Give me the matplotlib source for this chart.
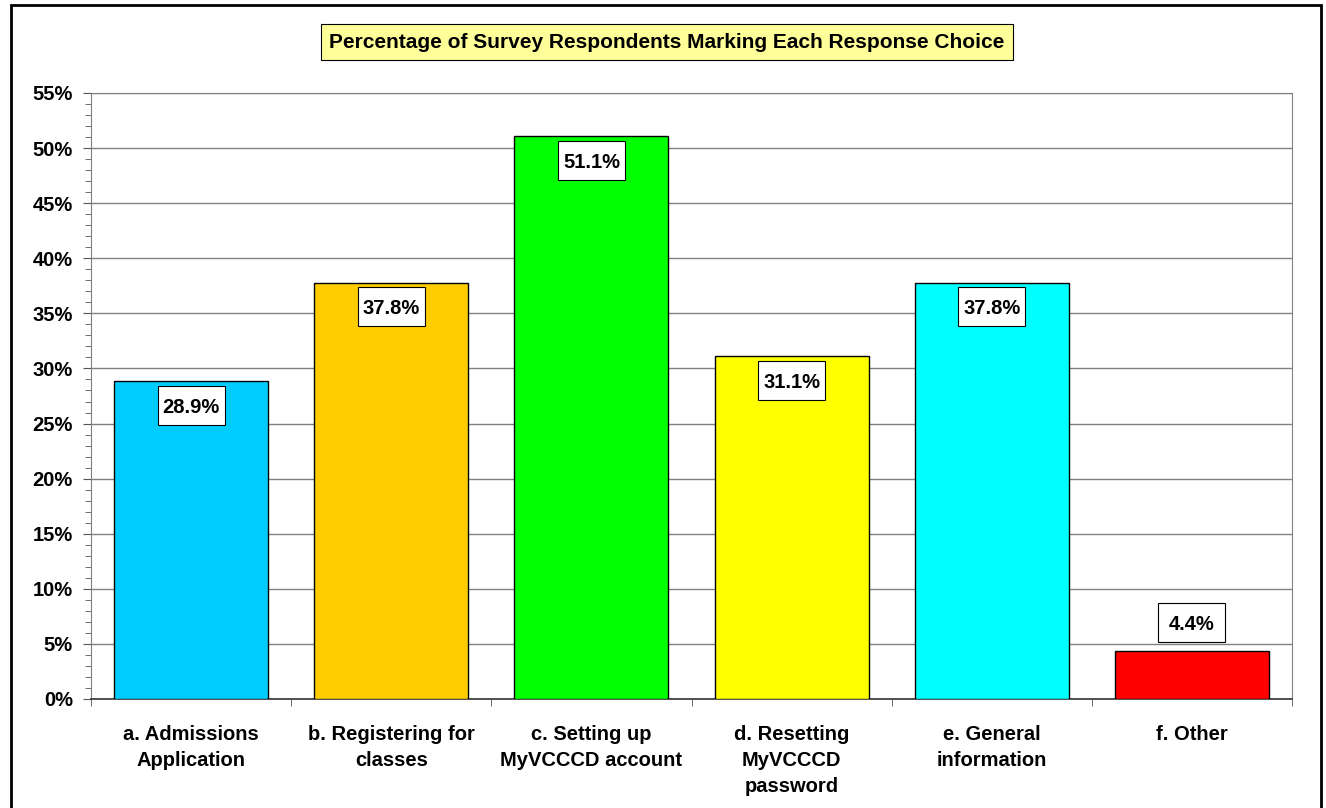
import matplotlib.pyplot as plt
from matplotlib.patches import Rectangle
from matplotlib.ticker import MultipleLocator, FuncFormatter

# data
categories = ['a. Admissions\nApplication', 'b. Registering for\nclasses',
              'c. Setting up\nMyVCCCD account', 'd. Resetting\nMyVCCCD\npassword',
              'e. General\ninformation', 'f. Other']
values = [28.9, 37.8, 51.1, 31.1, 37.8, 4.4]
bar_colors = ['#00CCFF', '#FFCC00', '#00FF00', '#FFFF00', '#00FFFF', '#FF0000']
title = 'Percentage of Survey Respondents Marking Each Response Choice'

plt.rcParams['font.family'] = ['Liberation Sans', 'DejaVu Sans']
plt.rcParams['font.weight'] = 'bold'

fig = plt.figure(figsize=(13.26, 8.08), dpi=100)
W, H = 1326, 808
ax = fig.add_axes([91 / W, 1 - 699 / H, (1292 - 91) / W, (699 - 93) / H])

x = list(range(len(values)))
ax.bar(x, values, width=0.77, color=bar_colors, edgecolor='black', linewidth=1, zorder=3)

# value labels in white boxes (box size in data units: ~67 x 39 px)
bw, bh = 0.335, 3.54
for xi, v in zip(x, values):
    if v > 10:
        top = v - 0.45
    else:
        top = v + 0.75 + bh
    ax.add_patch(Rectangle((xi - bw / 2, top - bh), bw, bh, fc='white', ec='black',
                           lw=0.8, zorder=4))
    ax.text(xi, top - bh / 2, f'{v:.1f}%', ha='center', va='center_baseline',
            fontsize=14.5, fontweight='bold', zorder=5)

ax.set_xlim(-0.5, len(values) - 0.5)
ax.set_ylim(0, 55)
ax.yaxis.set_major_locator(MultipleLocator(5))
ax.yaxis.set_minor_locator(MultipleLocator(1))
ax.yaxis.set_major_formatter(FuncFormatter(lambda v, p: f'{v:.0f}%'))
ax.grid(axis='y', color='#808080', linewidth=1, zorder=0)

ax.set_xticks(x)
ax.set_xticklabels(categories, fontsize=14.5, fontweight='bold', linespacing=1.45)
ax.set_xticks([i + 0.5 for i in range(-1, len(values))], minor=True)
ax.tick_params(axis='x', which='major', length=0, pad=19)
ax.tick_params(axis='x', which='minor', length=5, color='#555555')
ax.tick_params(axis='y', which='major', length=6, color='#555555', labelsize=14.5, pad=7)
ax.tick_params(axis='y', which='minor', length=4, color='#555555')
for lbl in ax.get_yticklabels():
    lbl.set_fontweight('bold')

for s in ['left', 'right', 'top']:
    ax.spines[s].set_color('#808080')
ax.spines['bottom'].set_color('#333333')
ax.spines['bottom'].set_linewidth(1.2)

# title in yellow box
fig.text(667 / W, 1 - 42 / H, title, ha='center', va='center', fontsize=15,
         fontweight='bold',
         bbox=dict(boxstyle='square,pad=0.42', fc='#FFFF99', ec='black', lw=0.8))

# outer chart border
fig.patches.append(Rectangle((11 / W, -0.05), (1321 - 11) / W, 1.05 - 5 / H,
                             transform=fig.transFigure, fill=False,
                             ec='black', lw=2))

fig.savefig('out.png', dpi=100)
